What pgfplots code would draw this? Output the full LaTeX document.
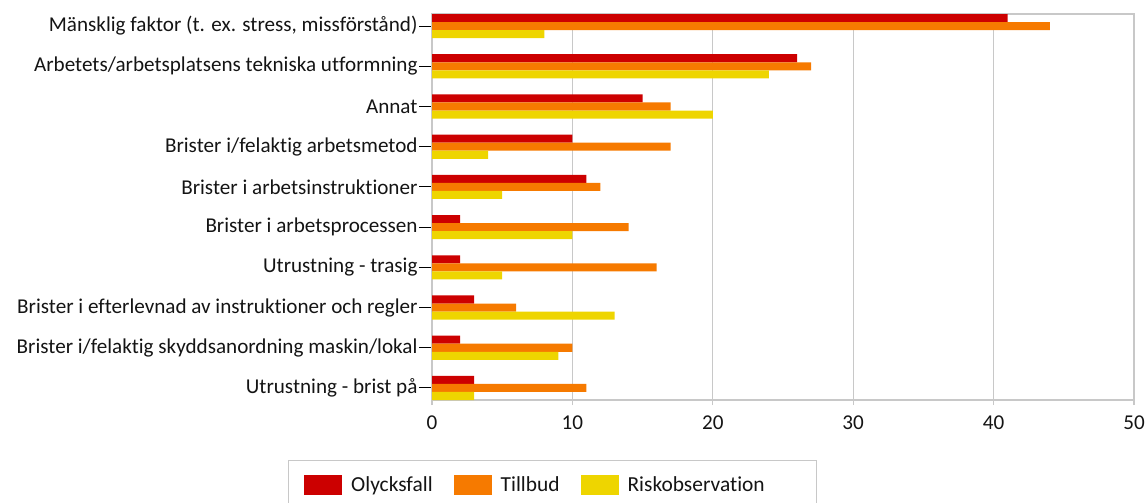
\documentclass[border=0pt]{standalone}
\usepackage{fontspec}
\setmainfont{Carlito}[Ligatures=NoCommon]
\usepackage{pgfplots}
\pgfplotsset{compat=1.18}
\definecolor{cRed}{RGB}{204,0,0}
\definecolor{cOrange}{RGB}{246,122,0}
\definecolor{cYellow}{RGB}{238,213,0}
\definecolor{cGrid}{RGB}{200,200,200}
\definecolor{cText}{RGB}{20,20,20}
\begin{document}
\begin{tikzpicture}
\begin{axis}[
  at={(432bp,103bp)}, anchor=south west,
  scale only axis, width=702bp, height=386bp,
  xbar, xmin=0, xmax=50, ymin=-0.3, ymax=9.3, y dir=reverse,
  bar width=0.2,
  ytick={0,...,9},
  yticklabels={
    {Mänsklig faktor (t. ex. stress, missförstånd)},
    {Arbetets/arbetsplatsens tekniska utformning},
    {Annat},
    {Brister i/felaktig arbetsmetod},
    {Brister i arbetsinstruktioner},
    {Brister i arbetsprocessen},
    {Utrustning - trasig},
    {Brister i efterlevnad av instruktioner och regler},
    {Brister i/felaktig skyddsanordning maskin/lokal},
    {Utrustning - brist på}},
  xtick={0,10,...,50},
  ytick pos=left, xtick pos=bottom,
  xmajorgrids, grid style={color=cGrid, line width=1.3bp},
  axis line style={color=cGrid, line width=1.3bp},
  tick align=outside,
  major tick length=11bp,
  x tick style={color=cGrid, line width=1.3bp, /pgfplots/major tick length=5bp},
  y tick style={color=black, line width=1bp, xshift=-1.5bp},
  tick label style={font=\fontsize{21.2}{25}\selectfont, text=cText},
  /pgf/number format/assume math mode=true,
  yticklabel style={xshift=0bp},
  xticklabel style={yshift=-1bp},
  legend style={at={(axis description cs:0.1716,-0.155)}, anchor=north,
    legend columns=3, draw=cGrid, line width=1.3bp,
    font=\fontsize{21.5}{25}\selectfont, text=cText,
    inner xsep=16bp, inner ysep=14bp,
    /tikz/every even column/.append style={column sep=19bp},
    /tikz/every odd column/.append style={column sep=7bp}},
  legend image code/.code={\fill[#1] (0bp,-10bp) rectangle (38bp,10bp);},
]
\addplot[fill=cRed, draw=none, bar shift=-0.2] coordinates {
 (41,0) (26,1) (15,2) (10,3) (11,4) (2,5) (2,6) (3,7) (2,8) (3,9)};
\addplot[fill=cOrange, draw=none, bar shift=0] coordinates {
 (44,0) (27,1) (17,2) (17,3) (12,4) (14,5) (16,6) (6,7) (10,8) (11,9)};
\addplot[fill=cYellow, draw=none, bar shift=0.2] coordinates {
 (8,0) (24,1) (20,2) (4,3) (5,4) (10,5) (5,6) (13,7) (9,8) (3,9)};
\legend{Olycksfall, Tillbud, Riskobservation\rule{34bp}{0pt}}
\end{axis}
\pgfresetboundingbox
\path[use as bounding box] (0,0) rectangle (1147bp,503bp);
\end{tikzpicture}
\end{document}
